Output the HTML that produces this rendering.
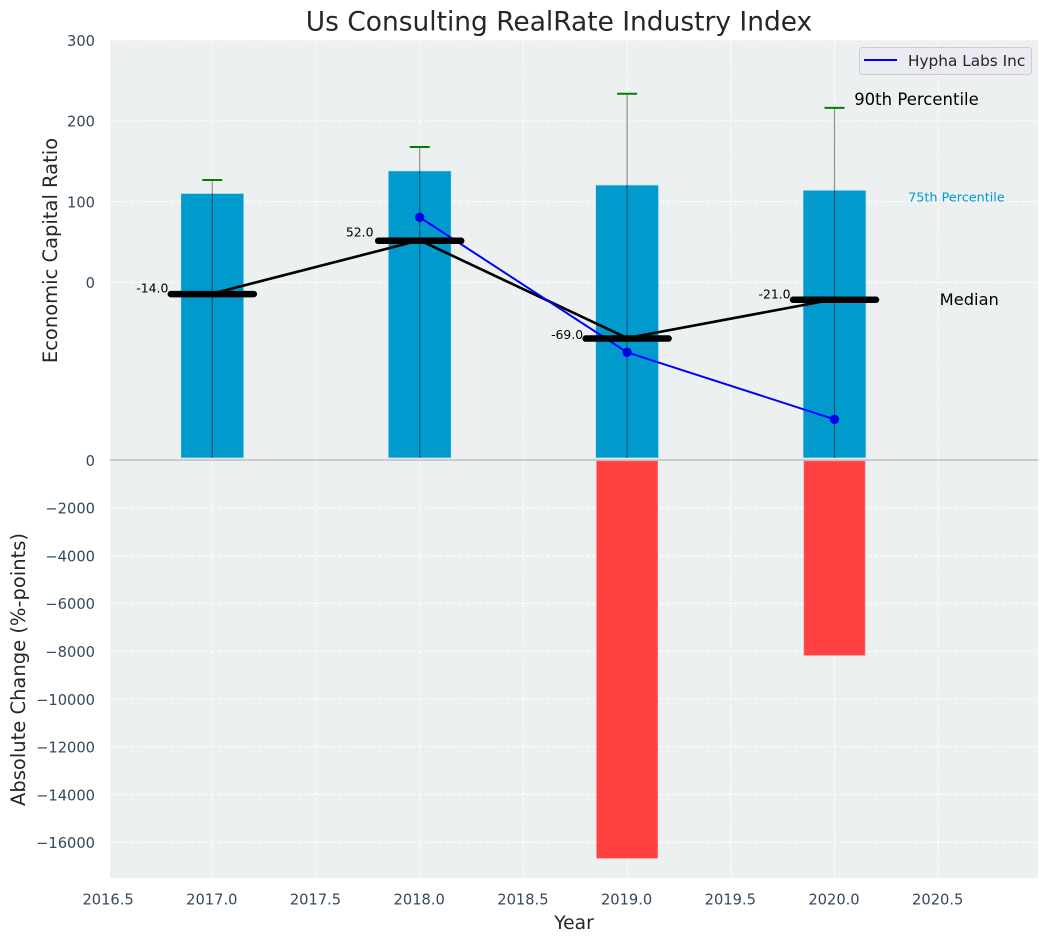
<!DOCTYPE html>
<html>
<head>
<meta charset="utf-8">
<title>Us Consulting RealRate Industry Index</title>
<style>
html,body{margin:0;padding:0;background:#fff;}
svg{display:block;font-family:"DejaVu Sans","Liberation Sans",sans-serif;}
</style>
</head>
<body>
<svg id="chart" xmlns="http://www.w3.org/2000/svg" width="1048" height="942" viewBox="0 0 1048 942"></svg>
<script>
const years = [2017, 2018, 2019, 2020];
const p75 = [110, 138, 120.5, 114];
const p90 = [126.7, 167.5, 233.5, 216];
const medians = [-14, 52, -69, -21];
const companyYears = [2018, 2019, 2020];
const companyValues = [80.5, -86.7, -169.6];
const changeYears = [2019, 2020];
const changeValues = [-16660, -8170];
const xTicks = [2016.5, 2017, 2017.5, 2018, 2018.5, 2019, 2019.5, 2020, 2020.5];
const topTicks = [0, 100, 200, 300];
const bottomTicks = [0, -2000, -4000, -6000, -8000, -10000, -12000, -14000, -16000];

const svg = document.getElementById('chart');
const NS = 'http://www.w3.org/2000/svg';
const AX = {left: 110, right: 1038, top: 40, mid: 459.5, bottom: 878};
const xS = v => 212.3 + (v - 2017) * 207.4;
const yT = v => 282.3 - v * 0.8077;
const yB = v => 460 - v * 0.0239;

function mk(tag, attrs, text) {
  const el = document.createElementNS(NS, tag);
  for (const k in attrs) el.setAttribute(k, attrs[k]);
  if (text !== undefined) el.textContent = text;
  svg.appendChild(el);
  return el;
}
let el;

el = mk('rect', {x: AX.left, y: AX.top, width: AX.right - AX.left, height: AX.mid - AX.top, fill: '#ecf0f1'});


el = mk('rect', {x: AX.left, y: AX.mid, width: AX.right - AX.left, height: AX.bottom - AX.mid, fill: '#ecf0f1'});



const gridStyle = {stroke: '#fff', 'stroke-width': 1.1, 'stroke-dasharray': '4.5 2.2', 'stroke-opacity': 0.85};

xTicks.forEach(t => {
  const x = xS(t);
  if (x >= AX.left) {
    el = mk('line', Object.assign({x1: x, x2: x, y1: AX.top, y2: AX.bottom}, gridStyle));
    
    
  }
  el = mk('text', {x: x - 0.5, y: 904.5, 'text-anchor': 'middle', 'font-size': 14.67, fill: '#34495e'}, t.toFixed(1));
  
  
});

topTicks.forEach(t => {
  const y = yT(t);
  el = mk('line', Object.assign({x1: AX.left, x2: AX.right, y1: y, y2: y}, gridStyle));
  
  
  el = mk('text', {x: 95, y: y + 5.8, 'text-anchor': 'end', 'font-size': 14.67, fill: '#34495e'}, String(t));
  
  
});

bottomTicks.forEach(t => {
  const y = yB(t);
  if (t !== 0) {
    el = mk('line', Object.assign({x1: AX.left, x2: AX.right, y1: y, y2: y}, gridStyle));
    
    
  }
  el = mk('text', {x: 95, y: y + 5.8, 'text-anchor': 'end', 'font-size': 14.67, fill: '#34495e'}, String(t).replace('-', '\u2212'));
  
  
});

years.forEach((yr, i) => {
  const y = yT(p75[i]);
  el = mk('rect', {x: xS(yr - 0.152), y: y, width: xS(yr + 0.152) - xS(yr - 0.152), height: 458 - y, fill: '#009acd', stroke: '#cfe6ee', 'stroke-width': 0.8});
  
  
});

changeYears.forEach((yr, i) => {
  const y = yB(changeValues[i]);
  el = mk('rect', {x: xS(yr - 0.147), y: 461, width: xS(yr + 0.147) - xS(yr - 0.147), height: y - 461, fill: '#ff3c3c', 'fill-opacity': 0.98, stroke: '#ff6a6a', 'stroke-width': 0.6});
  
  
});

el = mk('line', {x1: AX.left, x2: AX.right, y1: 460, y2: 460, stroke: '#bdbdbd', 'stroke-width': 1.4});



years.forEach((yr, i) => {
  const x = xS(yr), y = yT(p90[i]);
  el = mk('line', {x1: x, x2: x, y1: y, y2: 458, stroke: '#000', 'stroke-opacity': 0.42, 'stroke-width': 1.2});
  
  
  el = mk('line', {x1: x - 10, x2: x + 10, y1: y, y2: y, stroke: '#008000', 'stroke-width': 2});
  
  
});

el = mk('polyline', {points: years.map((yr, i) => xS(yr) + ',' + yT(medians[i])).join(' '), fill: 'none', stroke: '#000', 'stroke-width': 2.6});



el = mk('polyline', {points: companyYears.map((yr, i) => xS(yr) + ',' + yT(companyValues[i])).join(' '), fill: 'none', stroke: '#0000ff', 'stroke-width': 2});



companyYears.forEach((yr, i) => {
  el = mk('circle', {cx: xS(yr), cy: yT(companyValues[i]), r: 4.7, fill: '#0000e6'});
  
  
});

years.forEach((yr, i) => {
  const x = xS(yr), y = yT(medians[i]) + 0.5;
  el = mk('line', {x1: x - 41.5, x2: x + 41.5, y1: y, y2: y, stroke: '#000', 'stroke-width': 6.5, 'stroke-linecap': 'round'});
  
  
  el = mk('text', {x: x - 60, y: yT(medians[i] * 1.05 + 7.3) + 4.2, 'text-anchor': 'middle', 'font-size': 12.4, fill: '#000'}, medians[i].toFixed(1));
  
  
});

const lastIdx = years.length - 1;
el = mk('text', {x: xS(years[lastIdx] + 0.095), y: yT(p90[lastIdx]) - 3, 'font-size': 16.5, fill: '#000'}, '90th Percentile');


el = mk('text', {x: xS(years[lastIdx] + 0.355), y: yT(p75[lastIdx]) + 11.5, 'font-size': 12.8, fill: '#009acd'}, '75th Percentile');


el = mk('text', {x: xS(years[lastIdx] + 0.507), y: yT(medians[lastIdx]) + 5.5, 'font-size': 16.3, fill: '#000'}, 'Median');



el = mk('text', {x: 559, y: 30.5, 'text-anchor': 'middle', 'font-size': 26.45, fill: '#262626'}, 'Us Consulting RealRate Industry Index');


el = mk('text', {x: 574, y: 929, 'text-anchor': 'middle', 'font-size': 18.67, fill: '#262626'}, 'Year');


el = mk('text', {transform: 'translate(57,250.5) rotate(-90)', 'text-anchor': 'middle', 'font-size': 19.5, fill: '#262626'}, 'Economic Capital Ratio');


el = mk('text', {transform: 'translate(25,669.5) rotate(-90)', 'text-anchor': 'middle', 'font-size': 19.5, fill: '#262626'}, 'Absolute Change (%-points)');



el = mk('rect', {x: 859.5, y: 47.5, width: 172, height: 27, rx: 3, fill: '#eaeaf2', stroke: '#cccccc', 'stroke-width': 1});


el = mk('line', {x1: 864, x2: 897, y1: 60, y2: 60, stroke: '#0000ff', 'stroke-width': 2});


el = mk('text', {x: 908, y: 66, 'font-size': 15.3, fill: '#262626'}, 'Hypha Labs Inc');


</script>
</body>
</html>
